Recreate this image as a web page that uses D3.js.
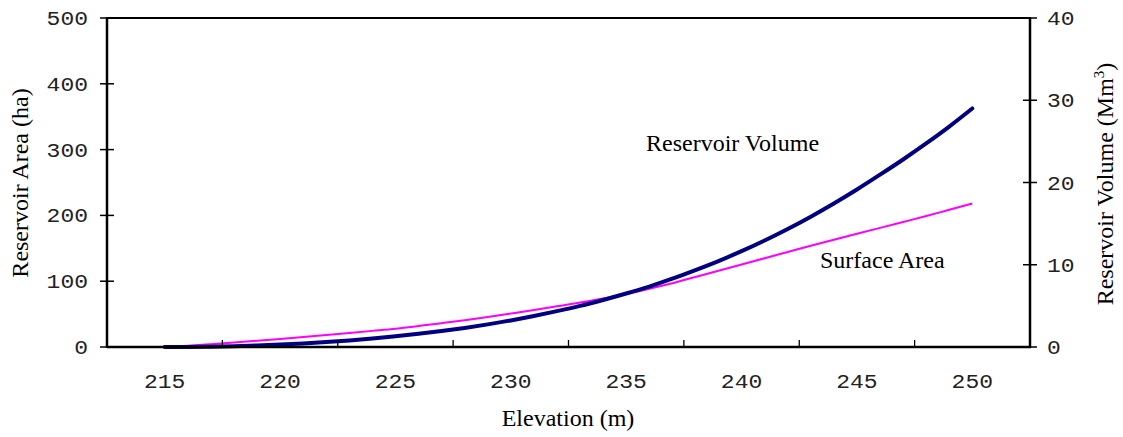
<!DOCTYPE html>
<html><head><meta charset="utf-8">
<script src="https://cdn.jsdelivr.net/npm/d3@7"></script>
<style>
html,body{margin:0;padding:0;background:#fff;}
svg{display:block;}
</style></head>
<body>
<svg id="chart" width="1123" height="437"></svg>
<script>
// Data
const elevation = [215,216,217,218,219,220,221,222,223,224,225,226,227,228,229,230,231,232,233,234,235,236,237,238,239,240,241,242,243,244,245,246,247,248,249,250];
const surfaceArea = [0,2,4.3,6.8,9.5,12.3,15.2,18.2,21.3,24.5,27.8,32,36.2,40.6,45.5,50.8,56.2,62,67.5,73.8,80.5,88.5,97,106.5,116,125.5,135,144.5,154,163,172,181,190,199,208.5,218];
const volume = [0,0.01,0.04,0.1,0.18,0.29,0.43,0.6,0.79,1.02,1.3,1.6,1.94,2.32,2.75,3.23,3.77,4.36,5.0,5.72,6.5,7.35,8.3,9.35,10.45,11.65,12.95,14.35,15.85,17.45,19.15,20.95,22.8,24.75,26.8,29.0];
const xTickLabels = [215,220,225,230,235,240,245,250];
const xTickMarks = [217.5,222.5,227.5,232.5,237.5,242.5,247.5];
const areaTicks = [0,100,200,300,400,500];
const volumeTicks = [0,10,20,30,40];
const labelVolume = "Reservoir Volume";
const labelArea = "Surface Area";

const svg = d3.select("#chart");
const L = 107, R = 1030, T = 18, B = 347;
const x = d3.scaleLinear().domain([212.5, 252.5]).range([L, R]);
const yA = d3.scaleLinear().domain([0, 500]).range([B, T]);
const yV = d3.scaleLinear().domain([0, 40]).range([B, T]);

const mono = "'Liberation Mono', 'Courier New', monospace";
const serif = "'Liberation Serif', 'Times New Roman', serif";
const monoSize = 20, sx = 1.15;

// lines
const areaLine = d3.line().x((d,i)=>x(elevation[i])).y(d=>yA(d)).curve(d3.curveMonotoneX);
const volLine = d3.line().x((d,i)=>x(elevation[i])).y(d=>yV(d)).curve(d3.curveMonotoneX);
svg.append("path").datum(surfaceArea).attr("d", areaLine)
  .attr("fill","none").attr("stroke","#ff00ff").attr("stroke-width",2);
svg.append("path").datum(volume).attr("d", volLine)
  .attr("fill","none").attr("stroke","#000080").attr("stroke-width",4).attr("stroke-linecap","round");

// frame
svg.append("line").attr("x1",L).attr("x2",R).attr("y1",T).attr("y2",T).attr("stroke","#000").attr("stroke-width",2);
svg.append("line").attr("x1",L).attr("x2",R+1).attr("y1",B).attr("y2",B).attr("stroke","#000").attr("stroke-width",2.5);
svg.append("line").attr("x1",L).attr("x2",L).attr("y1",T-1).attr("y2",B+1).attr("stroke","#000").attr("stroke-width",2.5);
svg.append("line").attr("x1",R).attr("x2",R).attr("y1",T-1).attr("y2",B+1).attr("stroke","#000").attr("stroke-width",2.5);

function monoText(xp, yp, anchor, txt){
  svg.append("text").attr("transform",`translate(${xp},${yp}) scale(${sx},1)`)
    .attr("text-anchor",anchor).attr("font-family",mono).attr("font-size",monoSize)
    .attr("fill","#222").text(txt);
}

// x tick marks (inward)
svg.selectAll(".xt").data(xTickMarks).enter().append("line")
  .attr("x1",d=>x(d)).attr("x2",d=>x(d)).attr("y1",B).attr("y2",B-7)
  .attr("stroke","#000").attr("stroke-width",1.3);
xTickLabels.forEach(d=>monoText(x(d), 387.5, "middle", d));

// left ticks
svg.selectAll(".yt").data(areaTicks).enter().append("line")
  .attr("x1",100).attr("x2",d=>(d===0||d===500)?L:114)
  .attr("y1",d=>yA(d)).attr("y2",d=>yA(d)).attr("stroke","#000").attr("stroke-width",1.5);
areaTicks.forEach(d=>monoText(88, yA(d)+7, "end", d));

// right ticks
svg.selectAll(".vt").data(volumeTicks).enter().append("line")
  .attr("x1",d=>(d===0||d===40)?R:1023).attr("x2",1037)
  .attr("y1",d=>yV(d)).attr("y2",d=>yV(d)).attr("stroke","#000").attr("stroke-width",1.5);
volumeTicks.forEach(d=>monoText(1047, yV(d)+7, "start", d));

// axis titles
svg.append("text").attr("transform","translate(28,183) rotate(-90)")
  .attr("text-anchor","middle").attr("font-family",serif).attr("font-size",24).text("Reservoir Area (ha)");
const rt = svg.append("text").attr("transform","translate(1113,184) rotate(-90)")
  .attr("text-anchor","middle").attr("font-family",serif).attr("font-size",24);
rt.append("tspan").text("Reservoir Volume (Mm");
rt.append("tspan").attr("dy",-9).attr("font-size",15).text("3");
rt.append("tspan").attr("dy",9).text(")");
svg.append("text").attr("x",568).attr("y",426).attr("text-anchor","middle")
  .attr("font-family",serif).attr("font-size",24).text("Elevation (m)");

// annotations
svg.append("text").attr("x",646).attr("y",151).attr("font-family",serif).attr("font-size",24).text(labelVolume);
svg.append("text").attr("x",820).attr("y",267.5).attr("font-family",serif).attr("font-size",24).text(labelArea);
</script>
</body></html>
